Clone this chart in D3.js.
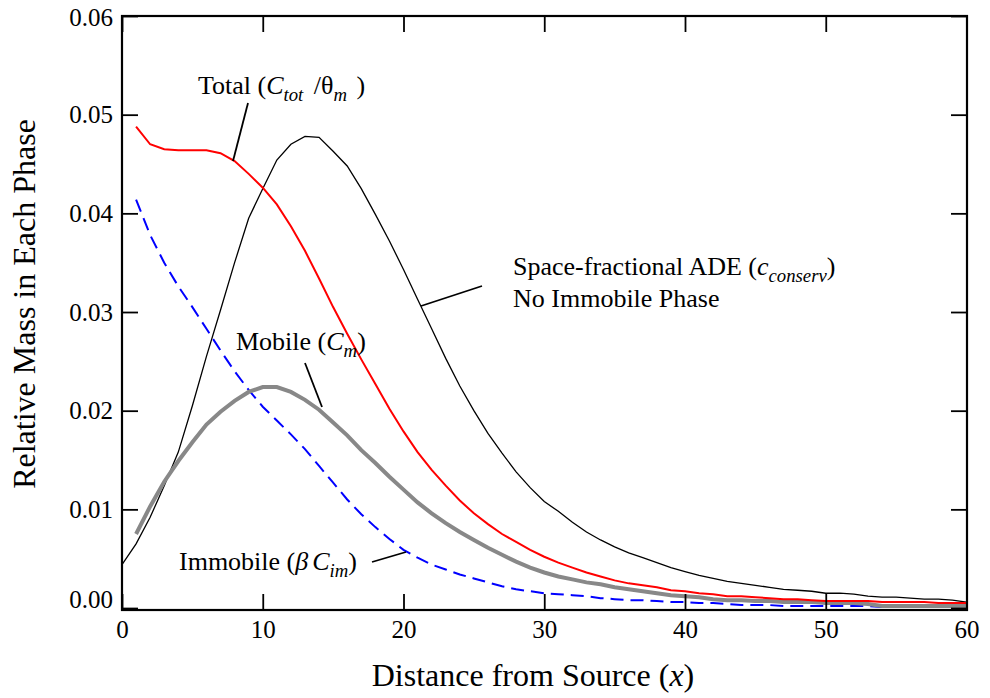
<!DOCTYPE html>
<html>
<head>
<meta charset="utf-8">
<script src="https://cdn.jsdelivr.net/npm/d3@7"></script>
<style>
  html, body { margin: 0; padding: 0; background: #fff; }
  svg { display: block; }
</style>
</head>
<body>
<svg id="chart" width="990" height="698"></svg>
<script>
// ---- data ----
const xTicks = [0, 10, 20, 30, 40, 50, 60];
const yTicks = [0, 0.01, 0.02, 0.03, 0.04, 0.05, 0.06];
const yTickLabels = ["0.00", "0.01", "0.02", "0.03", "0.04", "0.05", "0.06"];

// Space-fractional ADE (c_conserv), x = 0..60
const conservX = d3.range(0, 61);
const conserv = [0.0044, 0.0065, 0.0092, 0.0124, 0.0158, 0.0205, 0.0255, 0.0302, 0.0350, 0.0395,
  0.0425, 0.0454, 0.0470, 0.0478, 0.0477, 0.0463, 0.0448, 0.0425, 0.0399, 0.0372,
  0.0343, 0.0313, 0.0283, 0.0253, 0.0225, 0.0200, 0.0177, 0.0157, 0.0138, 0.0122,
  0.0108, 0.0098, 0.0087, 0.0077, 0.0069, 0.0062, 0.0056, 0.0051, 0.0046, 0.0041,
  0.0037, 0.0033, 0.0030, 0.0027, 0.0025, 0.0023, 0.0021, 0.0019, 0.0018, 0.0017,
  0.0015, 0.0015, 0.0014, 0.0012, 0.0011, 0.0011, 0.0010, 0.0009, 0.0009, 0.0008, 0.0006];

// x = 1..60 for the three MIM phases
const phaseX = d3.range(1, 61);
const total = [0.0488, 0.0470, 0.0465, 0.0464, 0.0464, 0.0464, 0.0461, 0.0453, 0.0440, 0.0426,
  0.0409, 0.0387, 0.0362, 0.0334, 0.0305, 0.0278, 0.0252, 0.0227, 0.0202, 0.0179,
  0.0158, 0.0140, 0.0124, 0.0109, 0.0096, 0.0085, 0.0075, 0.0067, 0.0059, 0.0052,
  0.0046, 0.0041, 0.0036, 0.0032, 0.0028, 0.0025, 0.0023, 0.0021, 0.0018, 0.0017,
  0.0015, 0.0014, 0.0012, 0.0012, 0.0011, 0.0010, 0.0009, 0.0009, 0.0008, 0.0007,
  0.0007, 0.0007, 0.0007, 0.0006, 0.0006, 0.0006, 0.0006, 0.0005, 0.0005, 0.0005];
const mobile = [0.0075, 0.0103, 0.0128, 0.0149, 0.0168, 0.0186, 0.0199, 0.0210, 0.0219, 0.0224,
  0.0224, 0.0219, 0.0211, 0.0201, 0.0188, 0.0175, 0.0160, 0.0147, 0.0133, 0.0120,
  0.0107, 0.0096, 0.0086, 0.0077, 0.0069, 0.0061, 0.0054, 0.0047, 0.0041, 0.0036,
  0.0032, 0.0029, 0.0026, 0.0024, 0.0021, 0.0019, 0.0017, 0.0015, 0.0013, 0.0012,
  0.0011, 0.0009, 0.0008, 0.0008, 0.0007, 0.0007, 0.0006, 0.0006, 0.0006, 0.0005,
  0.0005, 0.0005, 0.0004, 0.0002, 0.0002, 0.0002, 0.0002, 0.0002, 0.0002, 0.0002];
const immobile = [0.0414, 0.0378, 0.0350, 0.0326, 0.0305, 0.0283, 0.0261, 0.0240, 0.0221, 0.0204,
  0.0190, 0.0176, 0.0161, 0.0144, 0.0127, 0.0110, 0.0095, 0.0082, 0.0070, 0.0059,
  0.0051, 0.0044, 0.0039, 0.0034, 0.0030, 0.0026, 0.0022, 0.0019, 0.0017, 0.0015,
  0.0014, 0.0013, 0.0012, 0.0010, 0.0009, 0.0008, 0.0008, 0.0007, 0.0006, 0.0006,
  0.0005, 0.0005, 0.0004, 0.0003, 0.0003, 0.0003, 0.0002, 0.0002, 0.0002, 0.0002,
  0.0002, 0.0002, 0.0002, 0.0001, 0.0001, 0.0001, 0.0001, 0.0001, 0.0001, 0.0001];

// ---- chart ----
const FONT = '"Liberation Serif", "Times New Roman", Times, serif';
const svg = d3.select("#chart").attr("font-family", FONT);
const L = 122, R = 967, T = 16, B = 610;
const x = d3.scaleLinear().domain([0, 60]).range([L, R - 0.5]);
const y = d3.scaleLinear().domain([-0.0002, 0.06]).range([B, T]);

const line = d3.line().x(d => x(d[0])).y(d => y(d[1]));
const pair = (xs, ys) => xs.map((v, i) => [v, ys[i]]);

const plot = svg.append("g");
plot.append("path").datum(pair(conservX, conserv))
  .attr("d", line).attr("fill", "none").attr("stroke", "#000").attr("stroke-width", 1.3);
plot.append("path").datum(pair(phaseX, immobile))
  .attr("d", line).attr("fill", "none").attr("stroke", "#0000ff").attr("stroke-width", 2)
  .attr("stroke-dasharray", "13,7");
plot.append("path").datum(pair(phaseX, mobile))
  .attr("d", line).attr("fill", "none").attr("stroke", "#888888").attr("stroke-width", 4);
plot.append("path").datum(pair(phaseX, total))
  .attr("d", line).attr("fill", "none").attr("stroke", "#ff0000").attr("stroke-width", 2);

// frame
svg.append("rect").attr("x", L).attr("y", T).attr("width", R - L).attr("height", B - T)
  .attr("fill", "none").attr("stroke", "#000").attr("stroke-width", 2.2);

// axes (ticks inward on all four sides)
const tickLen = 16;
const xb = svg.append("g").attr("transform", `translate(0,${B})`)
  .call(d3.axisBottom(x).tickValues(xTicks).tickSize(-tickLen).tickPadding(10).tickFormat(d3.format("d")));
const xt = svg.append("g").attr("transform", `translate(0,${T})`)
  .call(d3.axisTop(x).tickValues(xTicks).tickSize(-tickLen).tickFormat(""));
const yl = svg.append("g").attr("transform", `translate(${L},0)`)
  .call(d3.axisLeft(y).tickValues(yTicks).tickSize(-tickLen).tickPadding(9)
    .tickFormat((d, i) => yTickLabels[i]));
const yr = svg.append("g").attr("transform", `translate(${R},0)`)
  .call(d3.axisRight(y).tickValues(yTicks).tickSize(-tickLen).tickFormat(""));
[xb, xt, yl, yr].forEach(g => {
  g.attr("font-family", FONT).attr("font-size", 25);
  g.select(".domain").remove();
  g.selectAll(".tick line").attr("stroke", "#000").attr("stroke-width", 1.8);
  g.selectAll(".tick text").attr("fill", "#000");
});
// 0.00 label sits a little above the frame in the reference
yl.selectAll(".tick text").filter(d => d === 0).attr("dy", "-0.04em");
// keep the top label inside the picture
yl.selectAll(".tick text").filter(d => d === 0.06).attr("dy", "0.36em");

// axis titles
svg.append("text").attr("x", 533).attr("y", 686).attr("text-anchor", "middle")
  .attr("font-size", 32)
  .call(t => { t.append("tspan").text("Distance from Source ("); t.append("tspan").attr("font-style", "italic").text("x"); t.append("tspan").text(")"); });
svg.append("text").attr("transform", `translate(35,304) rotate(-90)`)
  .attr("text-anchor", "middle").attr("font-size", 32).text("Relative Mass in Each Phase");

// rich labels with italic / subscript parts
function rich(xp, yp, parts, size) {
  const t = svg.append("text").attr("x", xp).attr("y", yp).attr("font-size", size);
  let shifted = 0;
  parts.forEach(p => {
    const s = t.append("tspan").text(p.t);
    if (p.i) s.attr("font-style", "italic");
    const want = p.sub ? 7 : 0;
    if (want !== shifted) { s.attr("dy", want - shifted); shifted = want; }
    if (p.sub) s.attr("font-size", size * 0.72);
    if (p.dx) s.attr("dx", p.dx);
  });
  return t;
}
const fs = 26;
rich(198, 94, [{t: "Total ("}, {t: "C", i: true}, {t: "tot", i: true, sub: true}, {t: " /θ", dx: 4}, {t: "m", i: true, sub: true}, {t: " )", dx: 3}], fs);
rich(236, 350, [{t: "Mobile ("}, {t: "C", i: true}, {t: "m", i: true, sub: true}, {t: ")"}], fs);
rich(513, 275, [{t: "Space-fractional ADE ("}, {t: "c", i: true}, {t: "conserv", i: true, sub: true}, {t: ")"}], fs);
rich(513, 307, [{t: "No Immobile Phase"}], fs);
rich(179, 570, [{t: "Immobile ("}, {t: "β", i: true}, {t: "C", i: true, dx: 4}, {t: "im", i: true, sub: true}, {t: ")"}], fs);

// leader lines
const leaders = [
  [[233, 161], [248, 103]],
  [[305, 363], [322, 407]],
  [[421, 306], [482, 286]],
  [[372, 562], [406, 552]]
];
leaders.forEach(l => svg.append("line")
  .attr("x1", l[0][0]).attr("y1", l[0][1]).attr("x2", l[1][0]).attr("y2", l[1][1])
  .attr("stroke", "#000").attr("stroke-width", 1.8));
</script>
</body>
</html>
